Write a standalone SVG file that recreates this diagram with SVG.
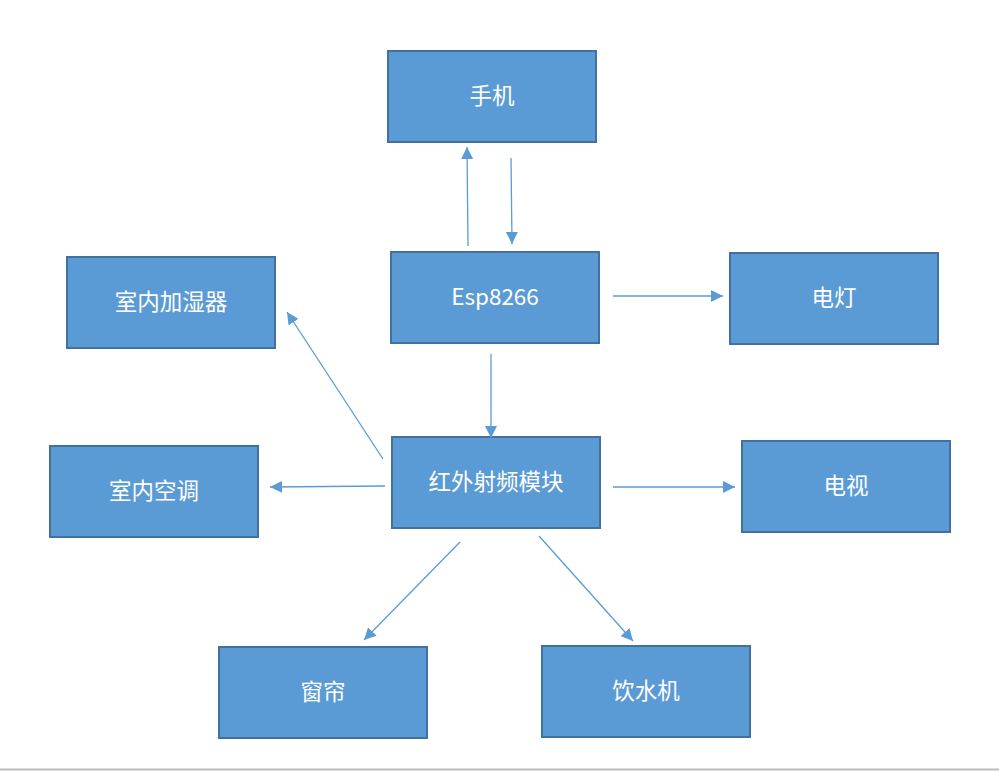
<svg xmlns="http://www.w3.org/2000/svg" width="999" height="771" viewBox="0 0 999 771">
<style>
.box{fill:#5B9BD5;stroke:#41719C;stroke-width:2}
.lbl{fill:#fff;font-family:"Segoe UI","Noto Sans CJK SC","Noto Sans",sans-serif;font-size:22.5px;text-anchor:middle;dominant-baseline:central}
.c{stroke:#5B9BD5;stroke-width:1.3;fill:none;marker-end:url(#ah)}
</style>
<defs>
<marker id="ah" markerUnits="userSpaceOnUse" markerWidth="14" markerHeight="12" refX="12" refY="6" orient="auto">
<path d="M0,0 L12,6 L0,12 Z" fill="#5B9BD5"/>
</marker>
</defs>
<rect width="999" height="771" fill="#fff"/>
<line x1="0" y1="769.5" x2="999" y2="769.5" stroke="#BBBBBB" stroke-width="2"/>
<g id="n-phone"><rect class="box" x="388" y="51" width="208" height="91"/><text class="lbl" x="492" y="94">手机</text></g>
<g id="n-esp"><rect class="box" x="391" y="252" width="208" height="91"/><text class="lbl" x="495" y="295">Esp8266</text></g>
<g id="n-light"><rect class="box" x="730" y="253" width="208" height="91"/><text class="lbl" x="834" y="296">电灯</text></g>
<g id="n-humid"><rect class="box" x="67" y="257" width="208" height="91"/><text class="lbl" x="171" y="300">室内加湿器</text></g>
<g id="n-ir"><rect class="box" x="392" y="437" width="208" height="91"/><text class="lbl" x="496" y="480">红外射频模块</text></g>
<g id="n-ac"><rect class="box" x="50" y="446" width="208" height="91"/><text class="lbl" x="154" y="489">室内空调</text></g>
<g id="n-tv"><rect class="box" x="742" y="441" width="208" height="91"/><text class="lbl" x="846" y="484">电视</text></g>
<g id="n-curtain"><rect class="box" x="219" y="647" width="208" height="91"/><text class="lbl" x="323" y="690">窗帘</text></g>
<g id="n-water"><rect class="box" x="542" y="646" width="208" height="91"/><text class="lbl" x="646" y="689">饮水机</text></g>
<g id="connectors">
<line class="c" x1="468" y1="246" x2="467" y2="147"/>
<line class="c" x1="511" y1="158" x2="512" y2="244"/>
<line class="c" x1="613" y1="296" x2="723" y2="296"/>
<line class="c" x1="491" y1="354" x2="491" y2="438"/>
<line class="c" x1="383" y1="459" x2="287" y2="312"/>
<line class="c" x1="385" y1="486" x2="270" y2="487"/>
<line class="c" x1="613" y1="487" x2="735" y2="487"/>
<line class="c" x1="460" y1="542" x2="364" y2="640"/>
<line class="c" x1="539" y1="536" x2="633" y2="641"/>
</g>
</svg>
